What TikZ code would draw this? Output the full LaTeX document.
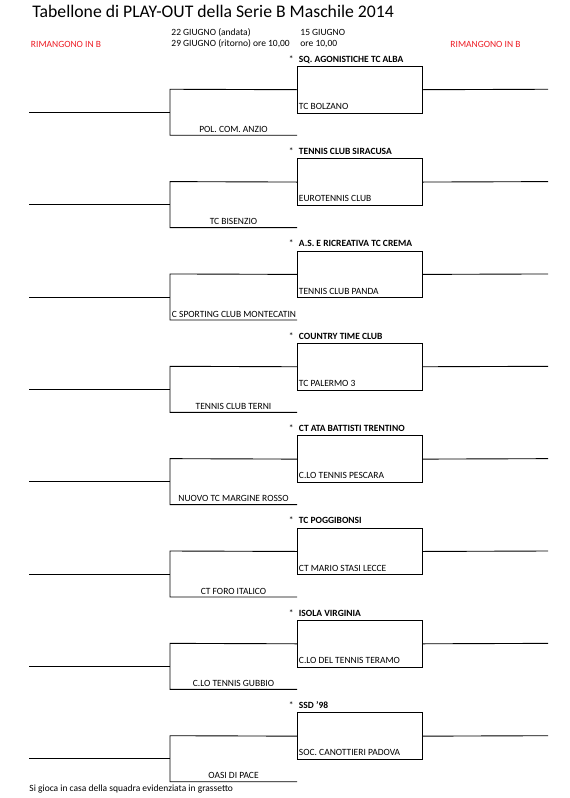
\documentclass[tikz,border=0pt]{standalone}
\usepackage{fontspec}
\setmainfont{Carlito}
\definecolor{rimred}{RGB}{237,28,36}
\begin{document}
\begin{tikzpicture}[x=1pt,y=-1pt, line width=0.9pt,
  lbl/.style={inner sep=0pt, font=\fontsize{9.5}{10}\selectfont},
  redlbl/.style={lbl, text=rimred},
  boxst/.style={draw, minimum width=125pt, minimum height=46.5pt, inner sep=0pt, anchor=north west}]
\useasboundingbox (0,0) rectangle (570,798);
\node[anchor=base west, inner sep=0pt, font=\fontsize{17.7}{20}\selectfont] (title) at (32,17.5) {Tabellone di PLAY-OUT della Serie B Maschile 2014};
\node[lbl, anchor=base west] (d1) at (171,35.7) {22 GIUGNO (andata)};
\node[lbl, anchor=base west] (d2) at (171,46.7) {29 GIUGNO (ritorno) ore 10,00};
\node[lbl, anchor=base west] (d3) at (300,35.7) {15 GIUGNO};
\node[lbl, anchor=base west] (d4) at (300,46.7) {ore 10,00};
\node[redlbl, anchor=base west] (rimL) at (30.5,47) {RIMANGONO IN B};
\node[redlbl, anchor=base west] (rimR) at (450,47) {RIMANGONO IN B};
\foreach \i/\home/\away/\third in {
  0/SQ. AGONISTICHE TC ALBA/TC BOLZANO/POL. COM. ANZIO,
  1/TENNIS CLUB SIRACUSA/EUROTENNIS CLUB/TC BISENZIO,
  2/A.S. E RICREATIVA TC CREMA/TENNIS CLUB PANDA/,
  3/COUNTRY TIME CLUB/TC PALERMO 3/TENNIS CLUB TERNI,
  4/CT ATA BATTISTI TRENTINO/C.LO TENNIS PESCARA/NUOVO TC MARGINE ROSSO,
  5/TC POGGIBONSI/CT MARIO STASI LECCE/CT FORO ITALICO,
  6/ISOLA VIRGINIA/C.LO DEL TENNIS TERAMO/C.LO TENNIS GUBBIO,
  7/SSD '98/SOC. CANOTTIERI PADOVA/OASI DI PACE}{
  \pgfmathsetmacro\yt{66+\i*92.35}
  \node[boxst] (box\i) at (297,\yt) {};
  \coordinate (bt\i) at (170,\yt+23.25);
  \coordinate (bb\i) at (170,\yt+69.25);
  \coordinate (bm\i) at (170,\yt+46.25);
  \coordinate (ls\i) at (29,\yt+46.25);
  \coordinate (re\i) at (548,\yt+23.25);
  \coordinate (bbe\i) at (297,\yt+69.25);
  \draw (box\i.west) -- (bt\i) -- (bb\i) -- (bbe\i);
  \draw (ls\i) -- (bm\i);
  \draw (box\i.east) -- (re\i);
  \node[lbl, anchor=base west] (star\i) at (288.5,\yt-4) {*};
  \node[lbl, anchor=base west, font=\fontsize{9.5}{10}\selectfont\bfseries] (home\i) at (298.5,\yt-4) {\home};
  \node[lbl, anchor=base west] (away\i) at (298.5,\yt+43.5) {\away};
  \node[lbl, anchor=base] (third\i) at (233.5,\yt+66.5) {\third};
}
\node[lbl, anchor=base west] (third2b) at (171.5,66+2*92.35+66.5) {C SPORTING CLUB MONTECATIN};
\node[lbl, anchor=base west] (foot) at (29,791.7) {Si gioca in casa della squadra evidenziata in grassetto};
\end{tikzpicture}
\end{document}
